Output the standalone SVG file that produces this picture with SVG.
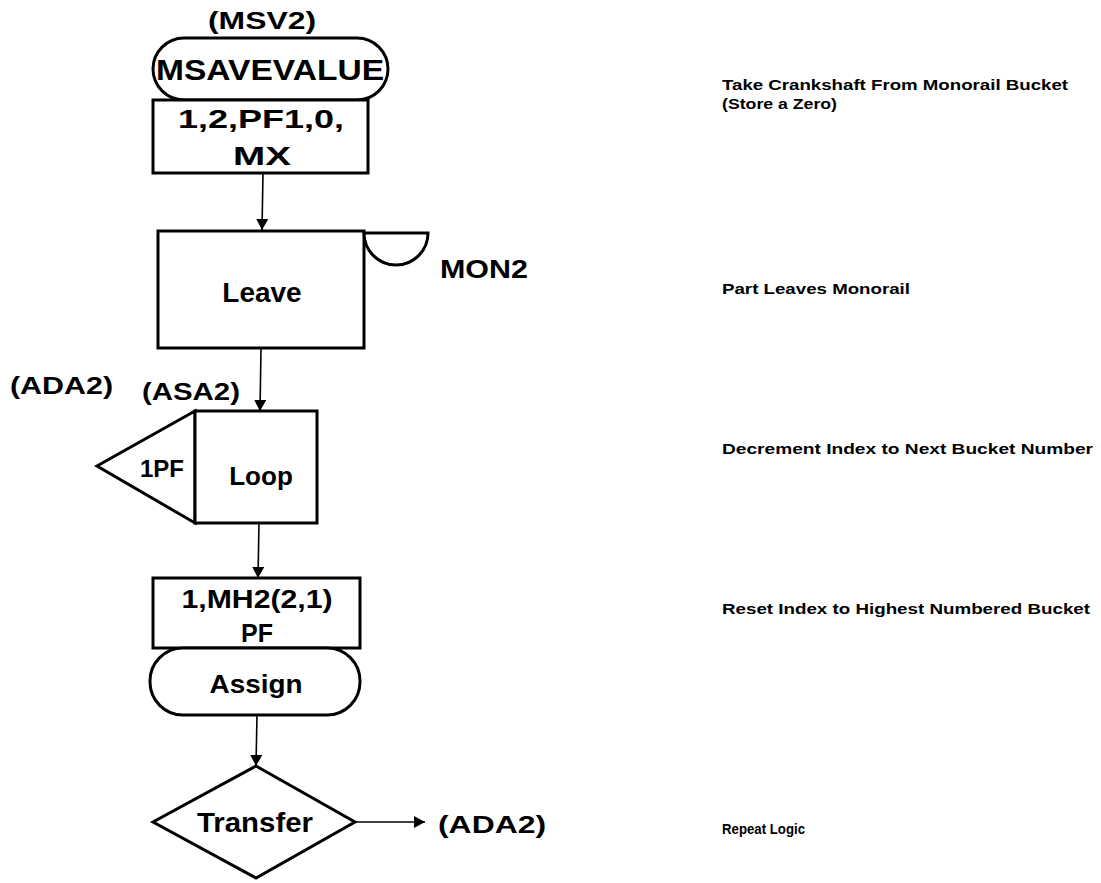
<svg xmlns="http://www.w3.org/2000/svg" width="1101" height="883" viewBox="0 0 1101 883">
<style>
.s{fill:#fff;stroke:#000;stroke-width:3}
.t{font-family:"Liberation Sans",Arial,sans-serif;font-weight:bold;fill:#000}
.c{stroke:#000;stroke-width:1.6;fill:none}
.n{font-family:"Liberation Sans",Arial,sans-serif;font-weight:bold;font-size:15px;fill:#000}
</style>
<defs>
<marker id="a" markerWidth="12" markerHeight="14" refX="11" refY="6" orient="auto" markerUnits="userSpaceOnUse">
<path d="M0,0 L11,6 L0,12 Z" fill="#000"/>
</marker>
</defs>
<g id="connectors">
<line class="c" x1="263" y1="173" x2="262" y2="230" marker-end="url(#a)"/>
<line class="c" x1="261" y1="348" x2="260" y2="411" marker-end="url(#a)"/>
<line class="c" x1="259" y1="523" x2="258" y2="578" marker-end="url(#a)"/>
<line class="c" x1="257" y1="715" x2="256" y2="766" marker-end="url(#a)"/>
<line class="c" x1="355" y1="822" x2="425" y2="822" stroke-width="2.2" marker-end="url(#a)"/>
</g>
<g id="msavevalue">
<text class="t" x="262" y="29" font-size="24" text-anchor="middle" textLength="108" lengthAdjust="spacingAndGlyphs">(MSV2)</text>
<rect class="s" x="153" y="38" width="235" height="62" rx="31" ry="31"/>
<text class="t" x="270" y="80" font-size="30" text-anchor="middle" textLength="228" lengthAdjust="spacingAndGlyphs">MSAVEVALUE</text>
<rect class="s" x="153" y="100" width="215" height="73"/>
<text class="t" x="261" y="128" font-size="26" text-anchor="middle" textLength="166" lengthAdjust="spacingAndGlyphs">1,2,PF1,0,</text>
<text class="t" x="262" y="165" font-size="26" text-anchor="middle" textLength="58" lengthAdjust="spacingAndGlyphs">MX</text>
</g>
<g id="leave">
<rect class="s" x="158" y="231" width="206" height="117"/>
<path class="s" d="M364,233 L428,233 A32,32 0 0 1 364,233 Z"/>
<text class="t" x="262" y="302" font-size="28" text-anchor="middle">Leave</text>
<text class="t" x="440" y="278" font-size="26" textLength="88" lengthAdjust="spacingAndGlyphs">MON2</text>
</g>
<g id="loop">
<text class="t" x="142" y="400" font-size="24" textLength="98" lengthAdjust="spacingAndGlyphs">(ASA2)</text>
<text class="t" x="10" y="394" font-size="24" textLength="103" lengthAdjust="spacingAndGlyphs">(ADA2)</text>
<path class="s" d="M195,411 L97,466 L195,523 Z"/>
<rect class="s" x="195" y="411" width="122" height="112"/>
<text class="t" x="162" y="477" font-size="24" text-anchor="middle">1PF</text>
<text class="t" x="261" y="485" font-size="26" text-anchor="middle">Loop</text>
</g>
<g id="assign">
<rect class="s" x="153" y="578" width="207" height="70"/>
<text class="t" x="257" y="608" font-size="25" text-anchor="middle" textLength="151" lengthAdjust="spacingAndGlyphs">1,MH2(2,1)</text>
<text class="t" x="257" y="642" font-size="25" text-anchor="middle">PF</text>
<rect class="s" x="150" y="648" width="210" height="67" rx="33" ry="33"/>
<text class="t" x="256" y="693" font-size="26" text-anchor="middle" textLength="93" lengthAdjust="spacingAndGlyphs">Assign</text>
</g>
<g id="transfer">
<path class="s" d="M256,766 L355,822 L256,878 L153,822 Z"/>
<text class="t" x="255" y="832" font-size="27" text-anchor="middle" textLength="116" lengthAdjust="spacingAndGlyphs">Transfer</text>
<text class="t" x="438" y="833" font-size="24" textLength="108" lengthAdjust="spacingAndGlyphs">(ADA2)</text>
</g>
<g id="notes">
<text class="n" x="722" y="90" textLength="346" lengthAdjust="spacingAndGlyphs">Take Crankshaft From Monorail Bucket</text>
<text class="n" x="722" y="109" textLength="115" lengthAdjust="spacingAndGlyphs">(Store a Zero)</text>
<text class="n" x="722" y="294" textLength="188" lengthAdjust="spacingAndGlyphs">Part Leaves Monorail</text>
<text class="n" x="722" y="454" textLength="371" lengthAdjust="spacingAndGlyphs">Decrement Index to Next Bucket Number</text>
<text class="n" x="722" y="614" textLength="368" lengthAdjust="spacingAndGlyphs">Reset Index to Highest Numbered Bucket</text>
<text class="n" x="722" y="834" textLength="83" lengthAdjust="spacingAndGlyphs">Repeat Logic</text>
</g>
</svg>
